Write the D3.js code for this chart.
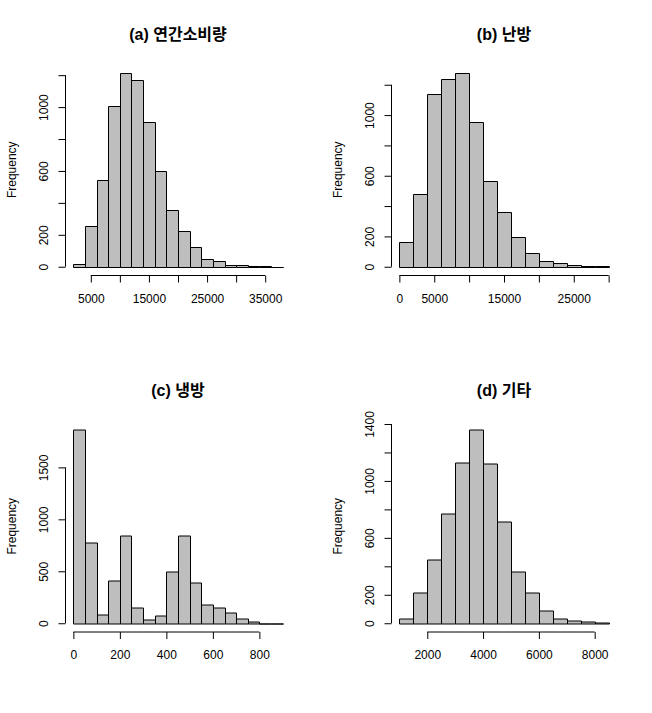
<!DOCTYPE html>
<html>
<head>
<meta charset="utf-8">
<script src="https://cdn.jsdelivr.net/npm/d3@7"></script>
<style>
  body { margin: 0; background: #fff; }
  svg { display: block; }
  text { font-family: "Liberation Sans", Arial, sans-serif; fill: #000; }
  .title { font-family: "Liberation Sans", "Noto Sans CJK KR", sans-serif; font-weight: bold; font-size: 16px; }
</style>
</head>
<body>
<div id="chart"></div>
<script>
// bin edges and counts
var annualEdges = [2000, 4000, 6000, 8000, 10000, 12000, 14000, 16000, 18000, 20000,
  22000, 24000, 26000, 28000, 30000, 32000, 34000, 36000, 38000];
var annualCounts = [20, 253, 545, 1008, 1215, 1171, 908, 601, 357, 225, 121, 46, 34, 11, 11, 4, 2, 1];

var heatEdges = [0, 2000, 4000, 6000, 8000, 10000, 12000, 14000, 16000, 18000,
  20000, 22000, 24000, 26000, 28000, 30000];
var heatCounts = [165, 477, 1136, 1235, 1279, 952, 563, 358, 193, 92, 40, 22, 11, 5, 4];

var coolEdges = [0, 50, 100, 150, 200, 250, 300, 350, 400, 450, 500, 550, 600, 650,
  700, 750, 800, 850, 900];
var coolCounts = [1867, 776, 84, 409, 844, 149, 33, 74, 496, 847, 390, 178, 149, 103, 42, 19, 0, 0];

var otherEdges = [1000, 1500, 2000, 2500, 3000, 3500, 4000, 4500, 5000, 5500, 6000,
  6500, 7000, 7500, 8000, 8500];
var otherCounts = [35, 218, 450, 773, 1131, 1363, 1124, 717, 365, 218, 91, 35, 16, 9, 2];

// tick values and which of them get a label (R drops overlapping ones)
var annualXTicks = [5000, 10000, 15000, 20000, 25000, 30000, 35000];
var annualXLabels = [5000, 15000, 25000, 35000];
var heatXTicks = [0, 5000, 10000, 15000, 20000, 25000, 30000];
var heatXLabels = [0, 5000, 15000, 25000];
var coolXTicks = [0, 200, 400, 600, 800];
var coolXLabels = [0, 200, 400, 600, 800];
var otherXTicks = [2000, 4000, 6000, 8000];
var otherXLabels = [2000, 4000, 6000, 8000];

var yTicks1200 = [0, 200, 400, 600, 800, 1000, 1200];
var yLabels1200 = [0, 200, 600, 1000];
var coolYTicks = [0, 500, 1000, 1500];
var coolYLabels = [0, 500, 1000, 1500];
var otherYTicks = [0, 200, 400, 600, 800, 1000, 1200, 1400];
var otherYLabels = [0, 200, 600, 1000, 1400];

var titles = ["(a) 연간소비량", "(b) 난방", "(c) 냉방", "(d) 기타"];

var svgWidth = 652;
var svgHeight = 713;
var plotW = 226;
var plotH = 209.5;

var panels = [
  {title: titles[0], edges: annualEdges, counts: annualCounts, xt: annualXTicks, xl: annualXLabels, yt: yTicks1200, yl: yLabels1200, left: 65, top: 65},
  {title: titles[1], edges: heatEdges, counts: heatCounts, xt: heatXTicks, xl: heatXLabels, yt: yTicks1200, yl: yLabels1200, left: 391, top: 65},
  {title: titles[2], edges: coolEdges, counts: coolCounts, xt: coolXTicks, xl: coolXLabels, yt: coolYTicks, yl: coolYLabels, left: 65, top: 421.5},
  {title: titles[3], edges: otherEdges, counts: otherCounts, xt: otherXTicks, xl: otherXLabels, yt: otherYTicks, yl: otherYLabels, left: 391, top: 421.5}
];

var svg = d3.select("#chart")
  .append("svg")
  .attr("width", svgWidth)
  .attr("height", svgHeight);

panels.forEach(function(p) {
  var g = svg.append("g")
    .attr("transform", `translate(${p.left}, ${p.top})`);

  // R style: pad the data range by 4% on each side
  var lo = p.edges[0], hi = p.edges[p.edges.length - 1];
  var pad = (hi - lo) * 0.04;
  var x = d3.scaleLinear().domain([lo - pad, hi + pad]).range([0, plotW]);
  var ymax = d3.max(p.counts);
  var y = d3.scaleLinear().domain([-0.04 * ymax, 1.04 * ymax]).range([plotH, 0]);

  var bins = p.counts.map(function(c, i) {
    return {x0: p.edges[i], x1: p.edges[i + 1], n: c};
  });

  // paths instead of rects so that empty bins still show as a line
  g.selectAll("path.bar")
    .data(bins)
    .enter()
    .append("path")
    .attr("class", "bar")
    .attr("d", function(d) {
      var x0 = Math.round(x(d.x0)) + 0.5, x1 = Math.round(x(d.x1)) + 0.5;
      var y0 = Math.round(y(0)) + 0.5, y1 = Math.round(y(d.n)) + 0.5;
      return `M${x0},${y0}H${x1}V${y1}H${x0}Z`;
    })
    .attr("fill", "#bebebe")
    .attr("stroke", "#000")
    .attr("stroke-width", 1);

  // x axis
  var xAxis = d3.axisBottom(x)
    .tickValues(p.xt)
    .tickSize(7)
    .tickFormat(function(v) { return p.xl.indexOf(v) >= 0 ? v : ""; });

  var xg = g.append("g")
    .attr("transform", `translate(0, ${Math.round(plotH) + 0.5})`)
    .call(xAxis);
  xg.select(".domain").remove();
  xg.append("line")
    .attr("x1", x(p.xt[0])).attr("x2", x(p.xt[p.xt.length - 1]))
    .attr("stroke", "#000");
  xg.selectAll(".tick line").attr("stroke", "#000");
  xg.selectAll(".tick text")
    .attr("y", 23)
    .attr("dy", "0.35em")
    .attr("font-size", "12px")
    .attr("font-family", "Liberation Sans, Arial, sans-serif");

  // y axis, labels parallel to the axis
  var yAxis = d3.axisLeft(y)
    .tickValues(p.yt)
    .tickSize(7)
    .tickFormat(function(v) { return p.yl.indexOf(v) >= 0 ? v : ""; });

  var yg = g.append("g")
    .attr("transform", "translate(0.5, 0)")
    .call(yAxis);
  yg.select(".domain").remove();
  yg.append("line")
    .attr("y1", y(p.yt[0])).attr("y2", y(p.yt[p.yt.length - 1]))
    .attr("stroke", "#000");
  yg.selectAll(".tick line").attr("stroke", "#000");
  yg.selectAll(".tick text")
    .attr("transform", "rotate(-90)")
    .attr("x", 0)
    .attr("y", -22)
    .attr("dy", "0.35em")
    .attr("text-anchor", "middle")
    .attr("font-size", "12px")
    .attr("font-family", "Liberation Sans, Arial, sans-serif");

  // axis label
  g.append("text")
    .attr("transform", `translate(-53, ${plotH / 2}) rotate(-90)`)
    .attr("text-anchor", "middle")
    .attr("dy", "0.35em")
    .attr("font-size", "12px")
    .text("Frequency");

  // title
  g.append("text")
    .attr("class", "title")
    .attr("x", plotW / 2)
    .attr("y", -31)
    .attr("dy", "0.35em")
    .attr("text-anchor", "middle")
    .text(p.title);
});
</script>
</body>
</html>
